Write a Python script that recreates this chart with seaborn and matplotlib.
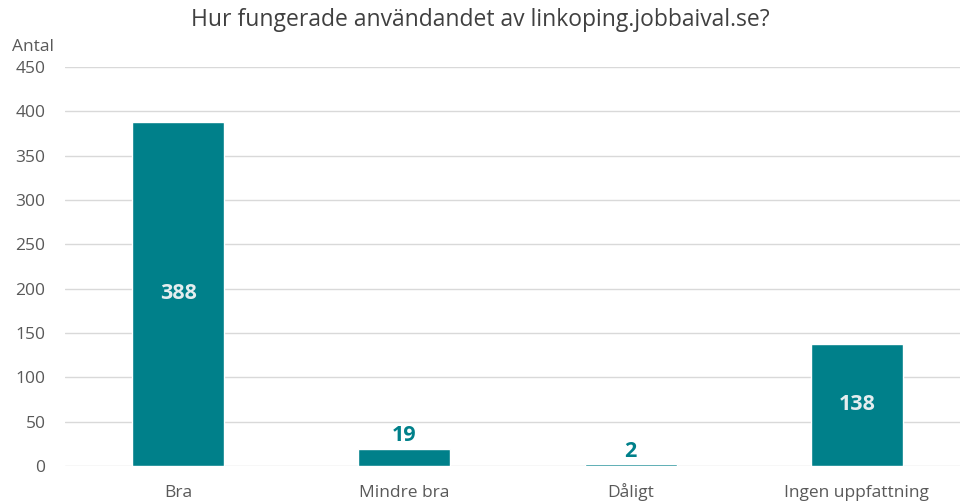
import matplotlib
matplotlib.use("Agg")
import matplotlib.pyplot as plt
import seaborn as sns
import pandas as pd

categories = ["Bra", "Mindre bra", "Dåligt", "Ingen uppfattning"]
values = [388, 19, 2, 138]
yticks = [0, 50, 100, 150, 200, 250, 300, 350, 400, 450]

teal = "#00808A"
grey_text = "#595959"

sns.set_theme(style="white")
plt.rcParams["font.family"] = ["Open Sans", "DejaVu Sans"]

df = pd.DataFrame({"kategori": categories, "antal": values})

fig = plt.figure(figsize=(9.6, 5.04), dpi=100)
ax = fig.add_axes([65 / 960, 38 / 504, 895 / 960, 399 / 504])

sns.barplot(data=df, x="kategori", y="antal", color=teal, width=0.407,
            saturation=1, ax=ax, zorder=3)

ax.set_xlim(-0.5, 3.456)
ax.set_ylim(0, 450)
ax.set_yticks(yticks)
ax.yaxis.grid(True, color="#D9D9D9", linewidth=1, zorder=0)
ax.set_axisbelow(True)
for s in ax.spines.values():
    s.set_visible(False)
ax.tick_params(axis="both", length=0, labelsize=12.5, colors=grey_text)
ax.tick_params(axis="y", pad=14)
ax.tick_params(axis="x", pad=22)
for lab in ax.get_xticklabels():
    lab.set_va("baseline")
ax.set_xlabel("")
ax.set_ylabel("")

# value labels: inside big bars, above small ones
for i, v in enumerate(values):
    if v > 50:
        ax.text(i, v / 2, str(v), ha="center", va="center", fontsize=15.5,
                fontweight="bold", color="#E4EDEF", zorder=4)
    else:
        ax.text(i, v + 3, str(v), ha="center", va="bottom", fontsize=15.5,
                fontweight="bold", color=teal, zorder=4)

fig.text(12 / 960, 1 - 47 / 504, "Antal", fontsize=12.5, color=grey_text,
         va="center", ha="left")
fig.suptitle("Hur fungerade användandet av linkoping.jobbaival.se?",
             x=0.5, y=1 - 20 / 504, va="center", fontsize=16.5, color="#404040")

fig.savefig("out.png", dpi=100)
